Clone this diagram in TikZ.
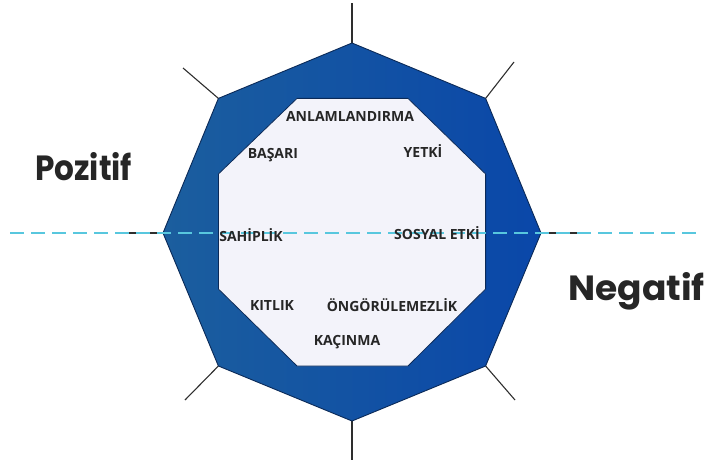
\documentclass[tikz,border=0pt]{standalone}
\usepackage{fontspec}
\setmainfont{Open Sans}
\newfontfamily\headfont{Poppins}
\usetikzlibrary{calc}
\definecolor{ringL}{HTML}{1B5E9E}
\definecolor{ringR}{HTML}{0A47A9}
\definecolor{ringedge}{HTML}{0B2A58}
\definecolor{core}{HTML}{F3F3FA}
\definecolor{spoke}{HTML}{2E2E2E}
\definecolor{axis}{HTML}{58C7DE}
\definecolor{ink}{HTML}{262626}
\tikzset{
  spokeline/.style={draw=spoke, line width=1.1pt},
  ringshape/.style={left color=ringL, right color=ringR, draw=ringedge, line width=0.9pt},
  coreshape/.style={fill=core, draw=ringedge, line width=0.8pt},
  axisline/.style={draw=axis, line width=2.8pt, dash pattern=on 14pt off 7pt},
  drive/.style={font=\bfseries\fontsize{14}{16}\selectfont, text=ink, inner sep=0pt},
  side/.style={font=\headfont\bfseries\fontsize{35}{40}\selectfont, text=ink, inner sep=0pt, transform shape}
}
\begin{document}
\begin{tikzpicture}[x=1pt, y=-1pt]
\useasboundingbox (0,0) rectangle (712,468);
% outer octagon corners
\coordinate (oT)  at (352,43);
\coordinate (oUR) at (485.6,98.4);
\coordinate (oR)  at (541,233);
\coordinate (oLR) at (485.6,366);
\coordinate (oB)  at (352,421);
\coordinate (oLL) at (218.4,366);
\coordinate (oL)  at (163,233);
\coordinate (oUL) at (218.4,98.4);
% spoke ends
\coordinate (sT)  at (352,3);
\coordinate (sUR) at (514,62);
\coordinate (sR)  at (586,233);
\coordinate (sLR) at (515,400);
\coordinate (sB)  at (352,460);
\coordinate (sLL) at (185,400);
\coordinate (sL)  at (118,233);
\coordinate (sUL) at (183,68);
% spokes
\foreach \d in {T,UR,R,LR,B,LL,L,UL}{
  \draw[spokeline] (o\d) -- (s\d);
}
% outer ring
\draw[ringshape] (oT) -- (oUR) -- (oR) -- (oLR) -- (oB) -- (oLL) -- (oL) -- (oUL) -- cycle;
% inner octagon
\draw[coreshape] (297,98.4) -- (408,98.4) -- (485.6,174) -- (485.6,289) -- (408,366)
  -- (297,366) -- (218.4,289) -- (218.4,174) -- cycle;
% dashed axis
\coordinate (axL) at (10,233);
\coordinate (axR) at (702,233);
\draw[axisline] (axL) -- (axR);
% core drive labels
\node[drive] (n1) at (350,116) {ANLAMLANDIRMA};
\node[drive] (n2) at (273,155) {BAŞARI};
\node[drive] (n3) at (423,151) {YETKİ};
\node[drive] (n4) at (251,235) {SAHİPLİK};
\node[drive] (n5) at (437,233) {SOSYAL ETKİ};
\node[drive] (n6) at (272,306) {KITLIK};
\node[drive] (n7) at (392,305) {ÖNGÖRÜLEMEZLİK};
\node[drive] (n8) at (347,342) {KAÇINMA};
% side captions
\begin{scope}[shift={(35,180)}, xscale=0.89]
  \node[side, anchor=base west] (pos) at (0,0) {Pozitif};
\end{scope}
\begin{scope}[shift={(705,300)}, xscale=1.03]
  \node[side, anchor=base east] (neg) at (0,0) {Negatif};
\end{scope}
\end{tikzpicture}
\end{document}
